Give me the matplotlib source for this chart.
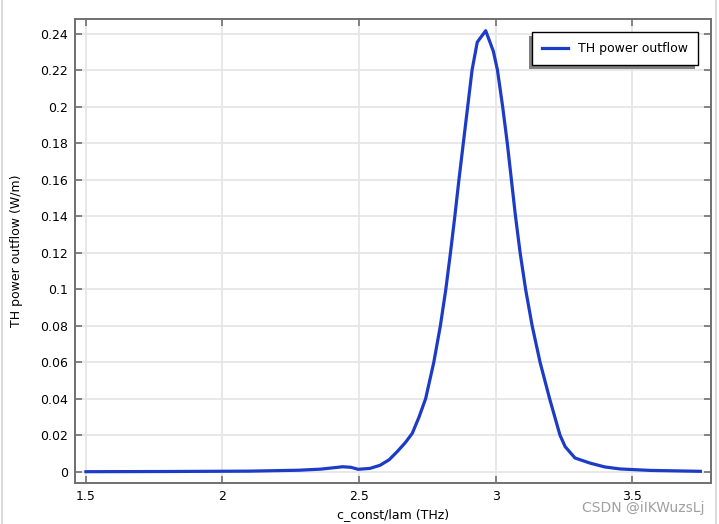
import matplotlib.pyplot as plt
from matplotlib.patches import Rectangle
from matplotlib.lines import Line2D
from matplotlib.transforms import IdentityTransform
from matplotlib.ticker import FuncFormatter

## dados (frequencia em THz, potencia em W/m)
freq = [1.5, 1.8, 2.1, 2.28, 2.36, 2.41, 2.44, 2.47, 2.497, 2.54, 2.577,
        2.61, 2.64, 2.67, 2.695, 2.72, 2.744, 2.774, 2.798, 2.818, 2.835,
        2.851, 2.866, 2.882, 2.898, 2.914, 2.933, 2.964, 2.992, 3.007, 3.026,
        3.043, 3.058, 3.073, 3.090, 3.110, 3.134, 3.163, 3.198, 3.236, 3.255,
        3.291, 3.346, 3.40, 3.456, 3.566, 3.75]
potencia = [0.0, 0.0001, 0.0003, 0.0008, 0.0014, 0.0022, 0.0027, 0.0024, 0.0013,
            0.0018, 0.0035, 0.0065, 0.011, 0.016, 0.021, 0.030, 0.040, 0.060,
            0.080, 0.100, 0.120, 0.140, 0.160, 0.180, 0.200, 0.220, 0.2353,
            0.2416, 0.2303, 0.220, 0.200, 0.180, 0.160, 0.140, 0.120, 0.100,
            0.080, 0.060, 0.040, 0.020, 0.0137, 0.0075, 0.0047, 0.0026, 0.0015,
            0.0007, 0.0002]
xticks = [1.5, 2, 2.5, 3, 3.5]
yticks = [0, 0.02, 0.04, 0.06, 0.08, 0.1, 0.12, 0.14, 0.16, 0.18, 0.2, 0.22, 0.24]

fig = plt.figure(figsize=(7.19, 5.24), dpi=100)
ax = fig.add_axes([75/719, 1-483/524, 636/719, 464/524])

ax.plot(freq, potencia, color="#1c3cc8", linewidth=2.3, label="TH power outflow", zorder=3)

ax.set_xlim(1.46, 3.789)
ax.set_ylim(-0.0062, 0.248)
ax.set_xticks(xticks)
ax.set_yticks(yticks)
ax.xaxis.set_major_formatter(FuncFormatter(lambda v, p: f"{v:g}"))
ax.yaxis.set_major_formatter(FuncFormatter(lambda v, p: f"{v:g}"))
ax.tick_params(direction="in", top=True, right=True, length=5, width=1.2,
               color="#707070", labelsize=9, pad=5)
for s in ax.spines.values():
    s.set_color("#707070")
    s.set_linewidth(1.4)
ax.grid(True, color="#e6e6e6", linewidth=1.3)
ax.set_axisbelow(True)

ax.set_xlabel("c_const/lam (THz)", fontsize=9, labelpad=4)
ax.set_ylabel("TH power outflow (W/m)", fontsize=9, labelpad=12)

leg = ax.legend(loc="upper right", bbox_to_anchor=(0.9796, 0.972), borderaxespad=0,
                fontsize=9, fancybox=False, framealpha=1, edgecolor="black",
                handlelength=2.1, borderpad=0.8, handletextpad=0.8)
leg.get_frame().set_linewidth(1.0)
leg.set_zorder(5)

## sombra do lado esquerdo/baixo (desenhada dentro do eixo, abaixo da legenda)
fig.canvas.draw()
bb = leg.get_window_extent()
sombra = Rectangle((bb.x0 - 3, bb.y0 - 4), bb.width, bb.height,
                   transform=IdentityTransform(), facecolor="#808080",
                   edgecolor="none", zorder=4, clip_on=False)
ax.add_artist(sombra)

## bordas da imagem
fig.add_artist(Line2D([1.5/719, 1.5/719], [0, 1], color="#d4d4d4", linewidth=1.2))
fig.add_artist(Line2D([716/719, 716/719], [0, 1], color="#d4d4d4", linewidth=1.2))

fig.text(705/719, 1-508/524, "CSDN @iIKWuzsLj", color="#a0a0a0", fontsize=10,
         ha="right", va="center")

fig.savefig("out.png", dpi=100)
